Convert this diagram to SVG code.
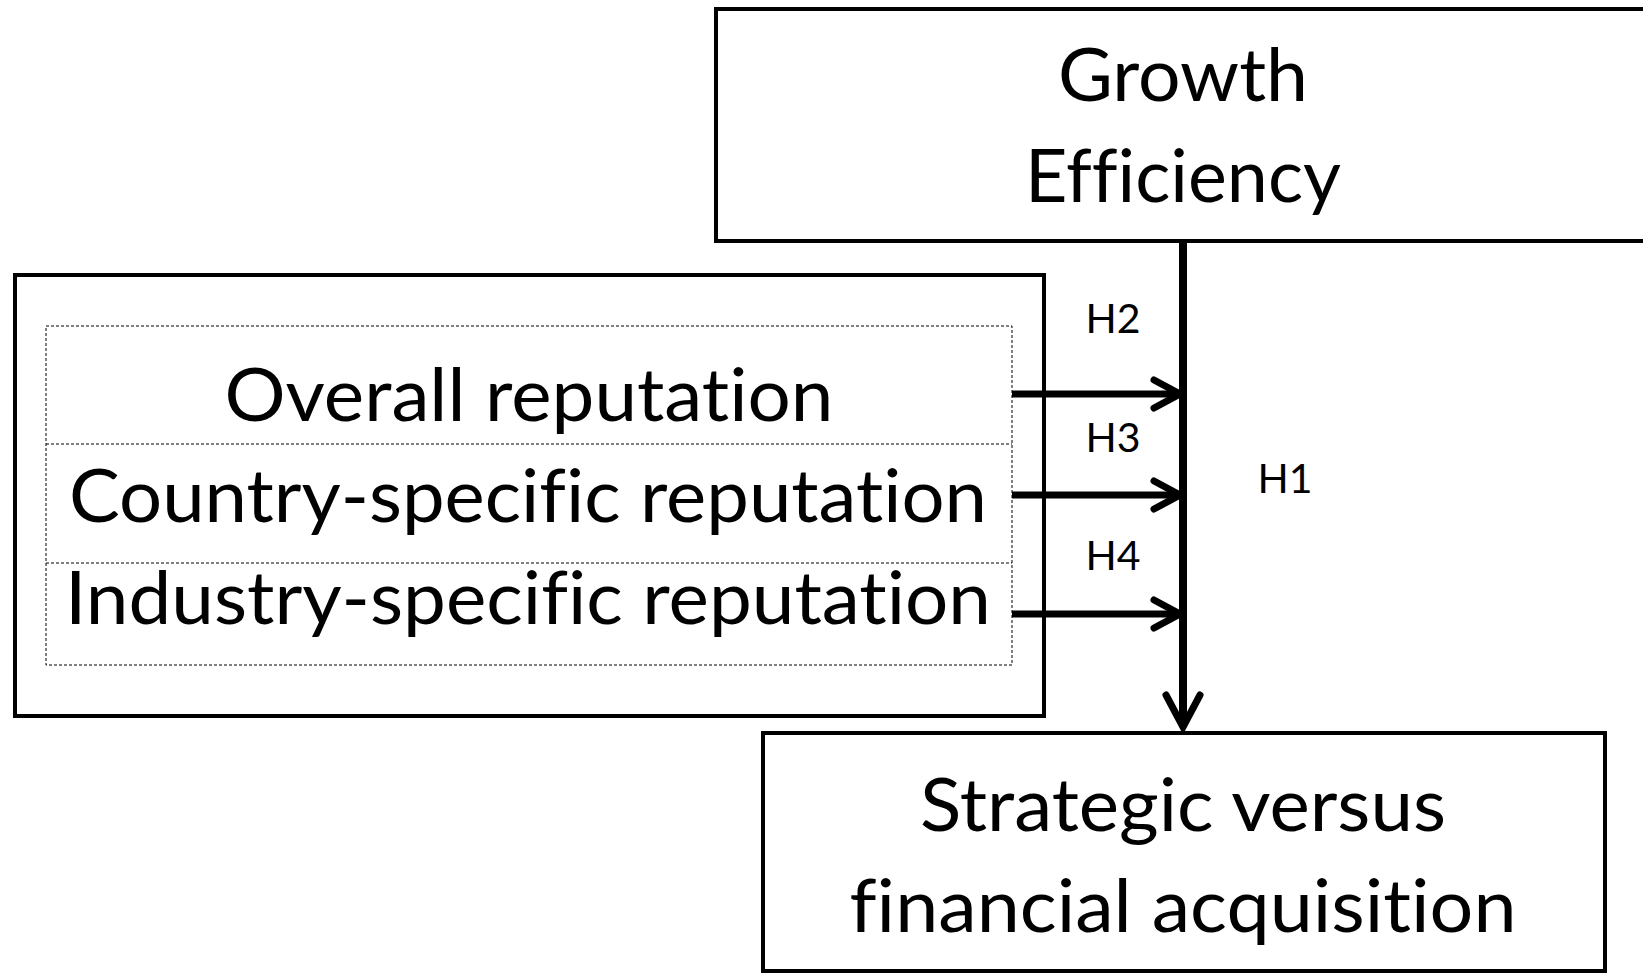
<svg xmlns="http://www.w3.org/2000/svg" width="1643" height="974" viewBox="0 0 1643 974">
<style>
.box{fill:#fff;stroke:#000;stroke-width:4}
.dot{fill:none;stroke:#000;stroke-width:1;stroke-dasharray:3 2}
.big{font-family:Lato,"Open Sans",sans-serif;font-size:74px;fill:#000;text-anchor:middle;font-variant-ligatures:none;font-feature-settings:"liga" 0,"clig" 0}
.lbl{font-family:Lato,"Open Sans",sans-serif;font-size:41px;fill:#000;text-anchor:middle}
.line{stroke:#000;stroke-width:7;fill:none}
.vline{stroke:#000;stroke-width:8;fill:none}
.head{stroke:#000;stroke-width:7;fill:none;stroke-linecap:round;stroke-linejoin:miter}
</style>
<rect width="1643" height="974" fill="#fff"/>
<g id="growth">
<rect class="box" x="716" y="9" width="940" height="232"/>
<text class="big" x="1183" y="101" textLength="250" lengthAdjust="spacingAndGlyphs">Growth</text>
<text class="big" x="1183" y="202" textLength="316" lengthAdjust="spacingAndGlyphs">Efficiency</text>
</g>
<g id="reputation">
<rect class="box" x="15" y="275" width="1029" height="441"/>
<rect class="dot" x="46" y="326" width="966" height="339"/>
<line class="dot" x1="46" y1="444" x2="1012" y2="444"/>
<line class="dot" x1="46" y1="563" x2="1012" y2="563"/>
<text class="big" x="529" y="421" textLength="609" lengthAdjust="spacingAndGlyphs">Overall reputation</text>
<text class="big" x="528" y="522" textLength="918" lengthAdjust="spacingAndGlyphs">Country-specific reputation</text>
<text class="big" x="528" y="624" textLength="926" lengthAdjust="spacingAndGlyphs">Industry-specific reputation</text>
</g>
<g id="acquisition">
<rect class="box" x="763" y="733" width="842" height="238"/>
<text class="big" x="1183" y="831" textLength="526" lengthAdjust="spacingAndGlyphs">Strategic versus</text>
<text class="big" x="1183" y="932" textLength="667" lengthAdjust="spacingAndGlyphs">financial acquisition</text>
</g>
<g id="connectors">
<line class="vline" x1="1183" y1="241" x2="1183" y2="726"/>
<polyline class="head" points="1166,695 1183,727 1200,695"/>
<line class="line" x1="1012" y1="394" x2="1180" y2="394"/>
<polyline class="head" points="1154,380 1180,394 1154,408"/>
<line class="line" x1="1012" y1="495" x2="1180" y2="495"/>
<polyline class="head" points="1154,481 1180,495 1154,509"/>
<line class="line" x1="1012" y1="614" x2="1180" y2="614"/>
<polyline class="head" points="1154,600 1180,614 1154,628"/>
</g>
<g id="labels">
<text class="lbl" x="1113" y="333">H2</text>
<text class="lbl" x="1113" y="452">H3</text>
<text class="lbl" x="1113" y="570">H4</text>
<text class="lbl" x="1285" y="493">H1</text>
</g>
</svg>
